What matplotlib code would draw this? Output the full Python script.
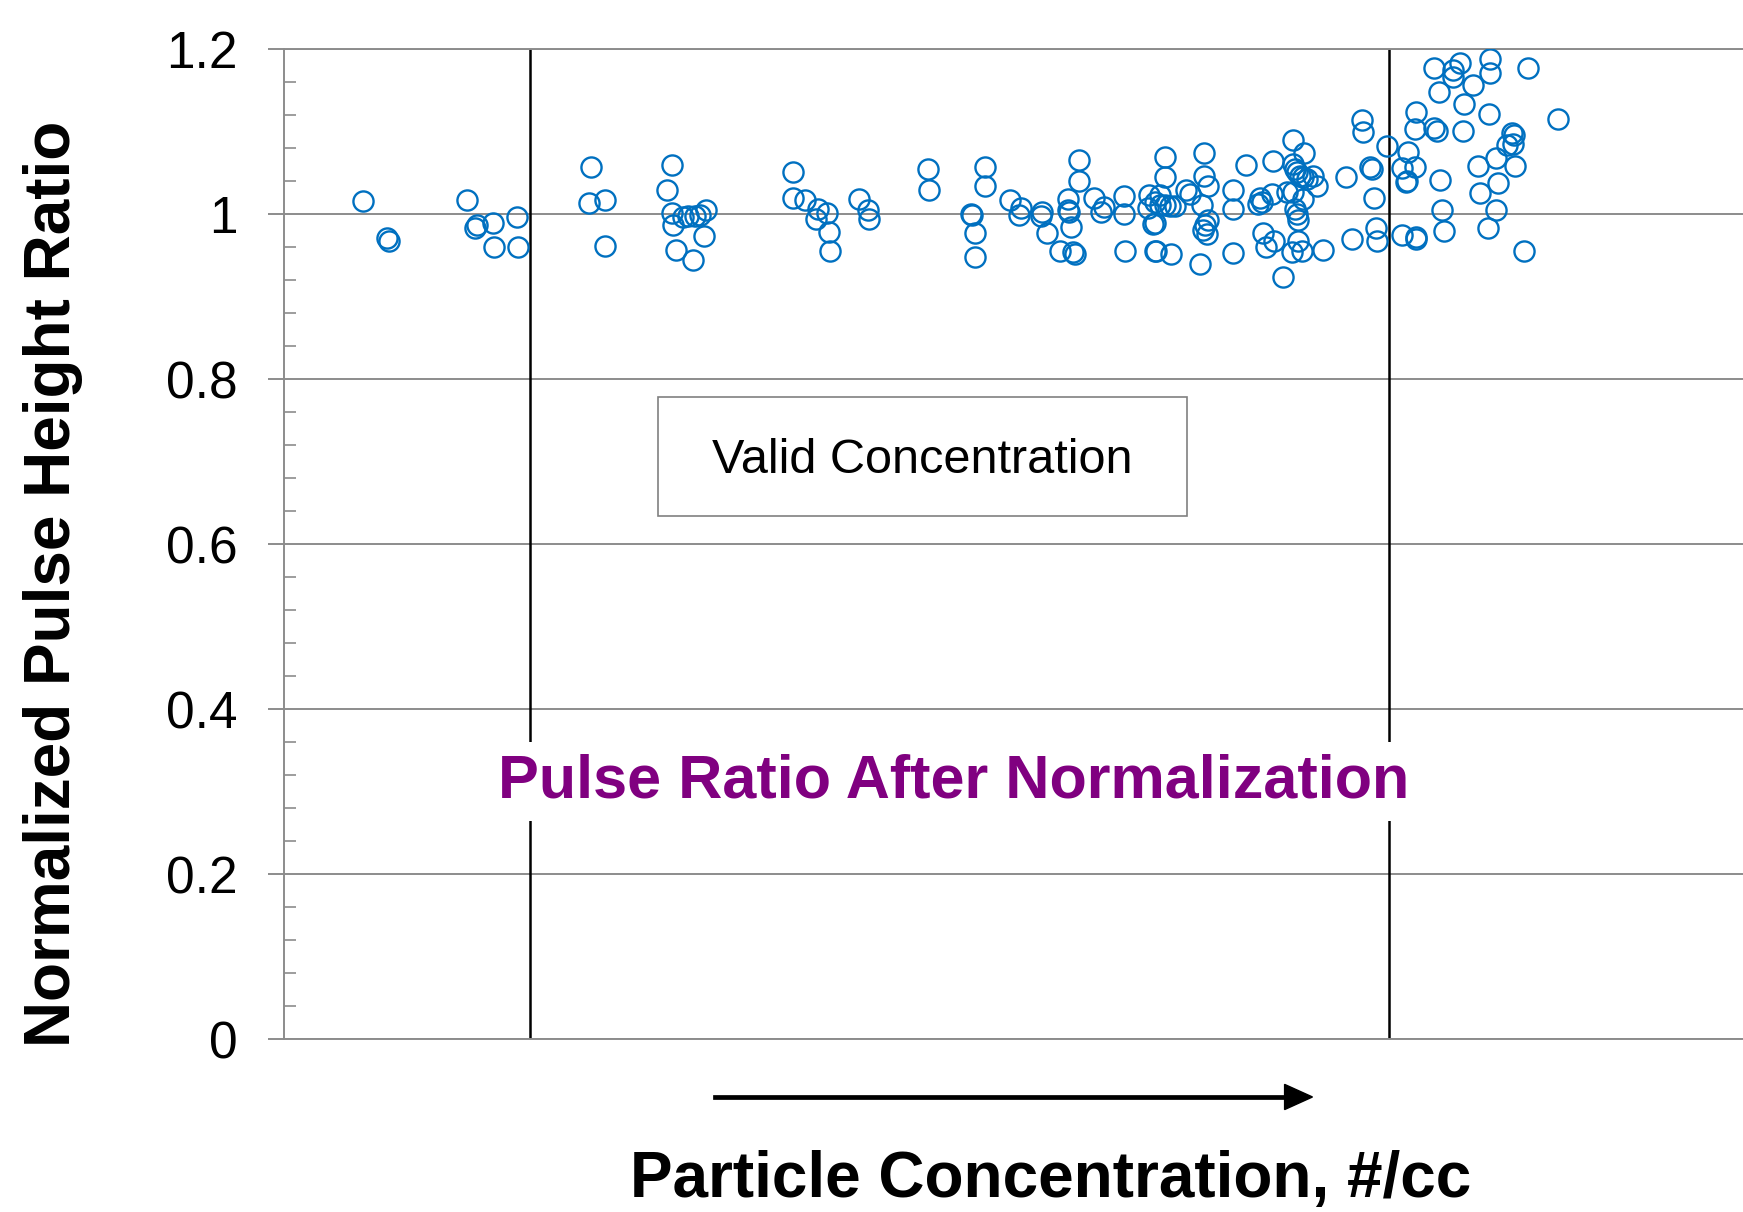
import matplotlib.pyplot as plt
from matplotlib.patches import Rectangle
import numpy as np

plt.rcParams['font.family'] = ['Liberation Sans', 'DejaVu Sans']

# concentration (arbitrary units, increasing to the right) and normalized ratio
conc = [79, 103, 105, 183, 193, 191, 209, 210, 233, 234,
        307, 305, 321, 321, 388, 383, 388, 389, 399, 404, 411, 416, 422, 420, 392, 409,
        509, 509, 521, 534, 543, 532, 545, 546, 575, 584, 585, 644, 645, 687, 688, 691, 691,
        701, 701, 726, 737, 735, 758, 757, 763, 776, 789, 791, 784, 784, 785, 787, 795, 795,
        810, 820, 817, 840, 840, 841, 865, 864, 869, 871,
        881, 881, 876, 871, 876, 881, 886, 891, 871, 872, 887, 902, 906, 918, 920, 920, 924,
        924, 921, 919, 923, 916, 949, 949, 949, 962, 976, 978, 974, 979, 982, 990, 989, 988,
        999, 1009, 1020, 1009, 1011, 1013, 1016, 1019, 1023, 1029, 1033, 1003, 1009, 1019,
        1011, 1013, 1014, 1014, 1008, 1018, 1039, 1062, 1068, 1078, 1079, 1086, 1088, 1090,
        1092, 1093, 1103,
        1118, 1124, 1131, 1123, 1122, 1118, 1132, 1132, 1132, 1131, 1150, 1153, 1150, 1155,
        1169, 1169, 1176, 1189, 1180, 1156, 1158, 1160, 1206, 1206, 1205, 1179, 1194, 1212,
        1196, 1214, 1212, 1204, 1228, 1230, 1229, 1223, 1231, 1244, 1240, 1274]
ratio = [1.016, 0.971, 0.968, 1.018, 0.987, 0.983, 0.990, 0.960, 0.997, 0.960,
         1.057, 1.014, 1.017, 0.962, 1.060, 1.029, 1.002, 0.987, 0.997, 0.998, 0.998, 0.999,
         1.005, 0.974, 0.957, 0.945,
         1.051, 1.020, 1.017, 1.006, 1.002, 0.994, 0.979, 0.956, 1.019, 1.005, 0.994, 1.055,
         1.029, 1.001, 0.999, 0.977, 0.948, 1.058, 1.034, 1.018, 1.008, 0.999, 1.003, 0.998,
         0.977, 0.955, 0.954, 0.952, 1.019, 1.005, 1.003, 0.985, 1.066, 1.040, 1.020, 1.009,
         1.003, 1.022, 1.000, 0.956, 1.024, 1.008, 0.988, 0.956,
         1.070, 1.045, 1.023, 1.015, 1.011, 1.011, 1.010, 1.010, 0.989, 0.956, 0.952, 1.029,
         1.025, 1.011, 1.074, 1.046, 1.035, 0.993, 0.987, 0.981, 0.976, 0.940, 1.029, 1.006,
         0.953, 1.060, 1.020, 1.015, 1.013, 0.977, 0.960, 0.968, 1.065, 1.025, 0.924, 1.090,
         1.074, 1.061, 1.055, 1.051, 1.047, 1.045, 1.043, 1.047, 1.035, 1.027, 1.027, 1.019,
         1.007, 1.001, 0.993, 0.968, 0.954, 0.956, 0.957, 1.045, 0.970, 1.115, 1.100, 1.057,
         1.055, 1.020, 0.983, 0.968, 1.083,
         1.056, 1.076, 1.058, 1.041, 1.039, 0.975, 0.973, 0.970, 1.124, 1.103, 1.105, 1.101,
         1.177, 1.148, 1.175, 1.166, 1.183, 1.157, 1.134, 1.042, 1.005, 0.980, 1.188, 1.171,
         1.122, 1.101, 1.059, 1.068, 1.026, 1.038, 1.005, 0.983, 1.099, 1.096, 1.085, 1.084,
         1.059, 1.177, 0.955, 1.116]

valid_bounds = [246, 1105]
y_ticks = [0, 0.2, 0.4, 0.6, 0.8, 1.0, 1.2]
y_labels = ['0', '0.2', '0.4', '0.6', '0.8', '1', '1.2']

fig = plt.figure(figsize=(17.43, 12.12), dpi=100)
ax = fig.add_axes([0.1629, 0.1427, 0.8371, 0.8165])

grey = '#8c8c8c'
ax.set_xlim(0, 1459)
ax.set_ylim(0, 1.2)
ax.set_yticks(y_ticks)
ax.set_yticklabels(y_labels, fontsize=37)
ax.set_yticks(np.arange(0, 1.2, 0.04), minor=True)
ax.set_xticks([])
ax.tick_params(axis='y', which='major', direction='out', length=11.5, width=1.4,
               color=grey, pad=22)
ax.tick_params(axis='y', which='minor', direction='in', length=8.5, width=1.2, color=grey)
ax.grid(axis='y', color=grey, linewidth=1.4)
ax.set_axisbelow(True)

ax.spines['right'].set_visible(False)
for side in ['left', 'bottom', 'top']:
    ax.spines[side].set_color(grey)
    ax.spines[side].set_linewidth(1.4)

for xv in valid_bounds:
    ax.axvline(xv, color='black', linewidth=1.8, zorder=1)

ax.plot(conc, ratio, 'o', markersize=14.5, markerfacecolor='none',
        markeredgecolor='#0070C0', markeredgewidth=1.7, zorder=3)

# "Valid Concentration" box
ax.add_patch(Rectangle((374, 0.634), 529, 0.145, facecolor='white',
                       edgecolor='#808080', linewidth=1.2, zorder=4))
ax.text(638, 0.702, 'Valid Concentration', fontsize=35, ha='center', va='center', zorder=5)

ax.text(670, 0.312, 'Pulse Ratio After Normalization', fontsize=44, fontweight='bold',
        color='#800080', ha='center', va='center', zorder=5,
        bbox=dict(facecolor='white', edgecolor='none', pad=8))

fig.text(0.0304, 0.518, 'Normalized Pulse Height Ratio', fontsize=46, fontweight='bold',
         rotation=90, ha='center', va='center')
fig.text(0.603, 0.026, 'Particle Concentration, #/cc', fontsize=46, fontweight='bold',
         ha='center', va='center')
fig.add_artist(plt.Line2D([0.410, 0.740], [0.0949, 0.0949], color='black', linewidth=3.4))
fig.patches.append(plt.Polygon([[0.737, 0.0845], [0.737, 0.1053], [0.753, 0.0949]],
                               closed=True, color='black', transform=fig.transFigure,
                               figure=fig))

fig.savefig('out.png', dpi=100)
